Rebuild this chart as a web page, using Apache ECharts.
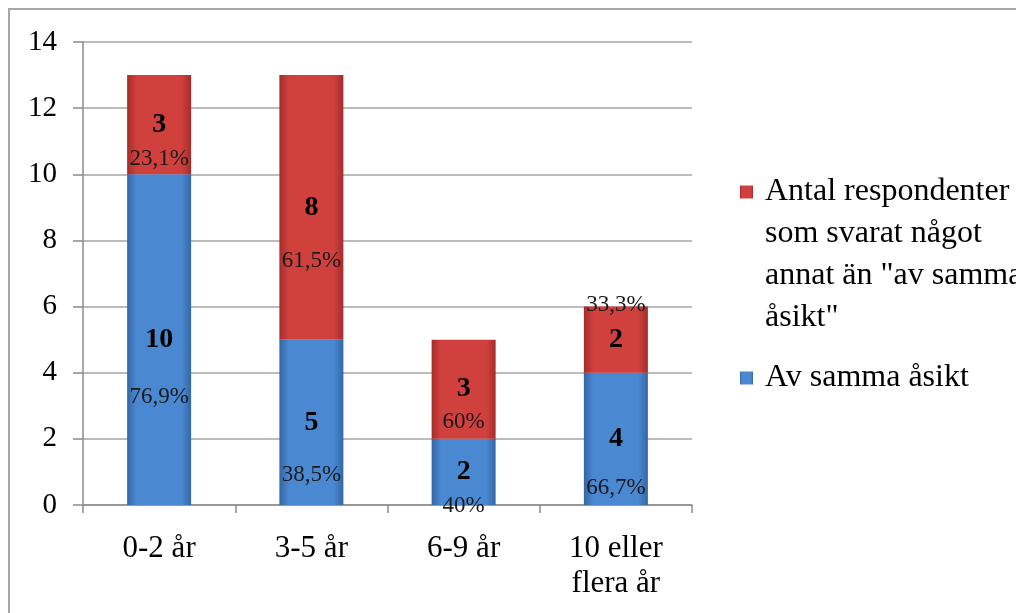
<!DOCTYPE html>
<html>
<head>
<meta charset="utf-8">
<script src="https://cdn.jsdelivr.net/npm/echarts@6/dist/echarts.min.js"></script>
<style>
  html, body { margin: 0; padding: 0; background: #ffffff; }
  #chart { width: 1016px; height: 613px; }
</style>
</head>
<body>
<div id="chart"></div>
<script>
// Respondents per years of experience, split by answer
const categories = ['0-2 år', '3-5 år', '6-9 år', '10 eller\nflera år'];
const sammaAsikt = [10, 5, 2, 4];
const annatSvar = [3, 8, 3, 2];
const yTicks = [0, 2, 4, 6, 8, 10, 12, 14];

const nameSamma = 'Av samma åsikt';
const nameAnnat = 'Antal respondenter\nsom svarat något\nannat än "av samma\nåsikt"';

// Vertical distance (px) from the count to its share label inside each segment
const sammaPctGap = [57, 53, 34, 49];
const annatPctGap = [34, 54, 33, -35];

const serif = "'Times New Roman', 'Liberation Serif', serif";

function pctText(part, total) {
  const p = Math.round(part / total * 1000) / 10;
  return String(p).replace('.', ',') + '%';
}

function segment(value, total, gap) {
  const pct = pctText(value, total);
  const L = 2 * (Math.abs(gap) - 14);
  const text = gap >= 0 ? '{v|' + value + '}\n{p|' + pct + '}'
                        : '{p|' + pct + '}\n{v|' + value + '}';
  return {
    value: value,
    label: {
      show: true,
      position: 'inside',
      offset: [0, gap >= 0 ? L / 2 : -L / 2],
      formatter: text,
      rich: {
        v: { fontFamily: serif, fontSize: 28, fontWeight: 'bold', color: '#000', lineHeight: 28 },
        p: { fontFamily: serif, fontSize: 23, color: '#1a1a1a', lineHeight: L }
      }
    }
  };
}

function barFill(edge, mid) {
  return {
    type: 'linear', x: 0, y: 0, x2: 1, y2: 0,
    colorStops: [
      { offset: 0, color: edge },
      { offset: 0.15, color: mid },
      { offset: 0.85, color: mid },
      { offset: 1, color: edge }
    ]
  };
}

// Multi-line legend entry: blank lines in front keep the first line level with the swatch
function legendLabel(name) {
  const extra = name.split('\n').length - 1;
  return '\n'.repeat(extra) + name;
}

const totals = sammaAsikt.map((v, i) => v + annatSvar[i]);

const legendText = { fontFamily: serif, fontSize: 32, color: '#000', lineHeight: 42, padding: [0, 0, 0, 7] };

const chart = echarts.init(document.getElementById('chart'));
chart.setOption({
  backgroundColor: '#ffffff',
  animation: false,
  graphic: [{
    type: 'rect',
    shape: { x: 9, y: 9, width: 1100, height: 700 },
    style: { fill: 'none', stroke: '#a6a6a6', lineWidth: 2 },
    silent: true
  }],
  grid: { left: 83, right: 324, top: 42, bottom: 108, containLabel: false },
  legend: [{
    data: [nameAnnat],
    orient: 'vertical',
    left: 740, top: 45, padding: 0,
    icon: 'rect', itemWidth: 13, itemHeight: 13,
    formatter: legendLabel,
    textStyle: legendText
  }, {
    data: [nameSamma],
    orient: 'vertical',
    left: 740, top: 357, padding: 0,
    icon: 'rect', itemWidth: 13, itemHeight: 13,
    textStyle: legendText
  }],
  xAxis: {
    type: 'category',
    data: categories,
    axisLine: { lineStyle: { color: '#8c8c8c', width: 1.5 } },
    axisTick: { show: true, length: 8, lineStyle: { color: '#8c8c8c', width: 1.5 } },
    axisLabel: { fontFamily: serif, fontSize: 31, color: '#000', lineHeight: 35, margin: 26 }
  },
  yAxis: {
    type: 'value',
    min: yTicks[0], max: yTicks[yTicks.length - 1], interval: 2,
    axisLine: { show: true, lineStyle: { color: '#8c8c8c', width: 1.5 } },
    axisTick: { show: true, length: 10, lineStyle: { color: '#8c8c8c', width: 1.5 } },
    axisLabel: { fontFamily: serif, fontSize: 29, color: '#000', margin: 26 },
    splitLine: { show: true, lineStyle: { color: '#a6a6a6', width: 1.5 } }
  },
  series: [{
    name: nameSamma,
    type: 'bar',
    stack: 'svar',
    barWidth: 64,
    itemStyle: { color: barFill('#3565a6', '#4a89d2') },
    data: sammaAsikt.map((v, i) => segment(v, totals[i], sammaPctGap[i]))
  }, {
    name: nameAnnat,
    type: 'bar',
    stack: 'svar',
    barWidth: 64,
    itemStyle: { color: barFill('#a52c2a', '#d0413e') },
    data: annatSvar.map((v, i) => segment(v, totals[i], annatPctGap[i]))
  }]
});
</script>
</body>
</html>
